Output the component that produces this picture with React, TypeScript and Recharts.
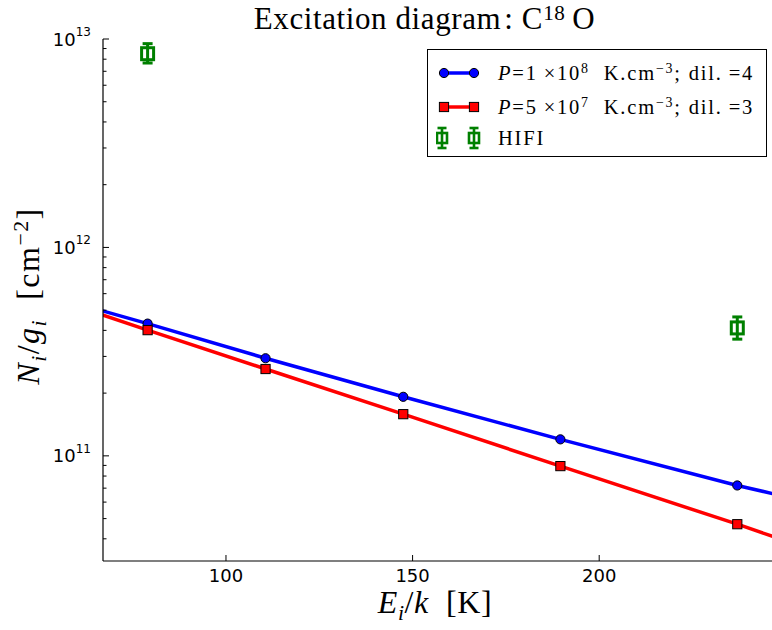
import React from 'react';
import { ComposedChart, Line, Scatter, ErrorBar, XAxis, YAxis } from 'recharts';

// upper level energies (K) of the C18O ladder, J=4..10
const levelEnergy = [52.7, 79.0, 110.6, 147.5, 189.6, 237.0, 289.7];
// model column densities per statistical weight (cm^-2)
const modelHighP = [5.86e11, 4.31e11, 2.94e11, 1.92e11, 1.2e11, 7.21e10, 4.37e10];
const modelLowP = [5.77e11, 4.01e11, 2.61e11, 1.585e11, 8.93e10, 4.7e10, 2.22e10];

// HIFI observations
const hifiEnergy = [79.0, 237.0];
const hifiValue = [8.5e12, 4.11e11];
const hifiErrLow = [0.83e12, 0.48e11];
const hifiErrHigh = [1.0e12, 0.53e11];

const xTicks = [100, 150, 200];
const yTicks = [
  4e10, 5e10, 6e10, 7e10, 8e10, 9e10, 1e11,
  2e11, 3e11, 4e11, 5e11, 6e11, 7e11, 8e11, 9e11, 1e12,
  2e12, 3e12, 4e12, 5e12, 6e12, 7e12, 8e12, 9e12, 1e13,
];

const X_MIN = 67.05;
const X_MAX = 246.3;
const Y_MIN = 3.13e10;
const Y_MAX = 1e13;

const BLUE = '#0000ff';
const RED = '#ff0000';
const GREEN = '#008000';
const TICK_FONT = '"DejaVu Sans", sans-serif';
const MATH_FONT = '"Liberation Serif", "DejaVu Serif", serif';

const highData = levelEnergy.map((e, i) => ({ e, v: modelHighP[i] }));
const lowData = levelEnergy.map((e, i) => ({ e, v: modelLowP[i] }));
const hifiData = hifiEnergy.map((e, i) => ({ e, v: hifiValue[i], err: [hifiErrLow[i], hifiErrHigh[i]] }));

const inRange = (e: number) => e >= X_MIN && e <= X_MAX;

const CircleDot = (props: any) => {
  const { cx, cy, payload, index } = props;
  if (!inRange(payload.e)) return <g key={`c-${index}`} />;
  return <circle key={`c-${index}`} cx={cx} cy={cy} r={4.6} fill={BLUE} stroke="#000" strokeWidth={1} />;
};

const SquareDot = (props: any) => {
  const { cx, cy, payload, index } = props;
  if (!inRange(payload.e)) return <g key={`s-${index}`} />;
  return <rect key={`s-${index}`} x={cx - 4.6} y={cy - 4.6} width={9.2} height={9.2} fill={RED} stroke="#000" strokeWidth={1} />;
};

const HifiShape = (props: any) => {
  const { cx, cy } = props;
  return <rect x={cx - 6} y={cy - 6} width={12} height={12} fill="none" stroke={GREEN} strokeWidth={3} />;
};

const BottomTick = (props: any) => {
  const { x, y, payload } = props;
  return (
    <g>
      <line x1={x} y1={y} x2={x} y2={y - 6} stroke="#000" strokeWidth={1} />
      <text x={x} y={y + 20.5} textAnchor="middle" fontFamily={TICK_FONT} fontSize={18} fill="#000">
        {payload.value}
      </text>
    </g>
  );
};

const TopTick = (props: any) => {
  const { x, y } = props;
  return <line x1={x} y1={y} x2={x} y2={y + 6} stroke="#000" strokeWidth={1} />;
};

const LeftTick = (props: any) => {
  const { x, y, payload } = props;
  const exp = Math.log10(payload.value);
  const major = Math.abs(exp - Math.round(exp)) < 1e-6;
  return (
    <g>
      <line x1={x} y1={y} x2={x + (major ? 6 : 3.5)} y2={y} stroke="#000" strokeWidth={1} />
      {major && (
        <text x={91} y={y + 6.5} textAnchor="end" fontFamily={TICK_FONT} fontSize={18} fill="#000">
          <tspan>10</tspan>
          <tspan dy={-9.5} fontSize={12}>{Math.round(exp)}</tspan>
        </text>
      )}
    </g>
  );
};

const sup: React.CSSProperties = { fontSize: '0.68em', position: 'relative', top: '-0.5em' };
const sub: React.CSSProperties = { fontSize: '0.68em', position: 'relative', top: '0.3em' };

const LegendMarkers = ({ kind }: { kind: 'circle' | 'square' | 'hifi' }) => (
  <svg width={50} height={26} style={{ position: 'absolute', left: 8, top: -13 }}>
    {kind === 'circle' && (
      <g>
        <line x1={8} y1={13} x2={38} y2={13} stroke={BLUE} strokeWidth={3.5} />
        <circle cx={8} cy={13} r={4.6} fill={BLUE} stroke="#000" strokeWidth={1} />
        <circle cx={38} cy={13} r={4.6} fill={BLUE} stroke="#000" strokeWidth={1} />
      </g>
    )}
    {kind === 'square' && (
      <g>
        <line x1={8} y1={13} x2={38} y2={13} stroke={RED} strokeWidth={3.5} />
        <rect x={3.4} y={8.4} width={9.2} height={9.2} fill={RED} stroke="#000" strokeWidth={1} />
        <rect x={33.4} y={8.4} width={9.2} height={9.2} fill={RED} stroke="#000" strokeWidth={1} />
      </g>
    )}
    {kind === 'hifi' &&
      [6, 38].map((cx) => (
        <g key={cx} stroke={GREEN} strokeWidth={2.6} fill="none">
          <line x1={cx} y1={3} x2={cx} y2={23} />
          <line x1={cx - 4.5} y1={3} x2={cx + 4.5} y2={3} />
          <line x1={cx - 4.5} y1={23} x2={cx + 4.5} y2={23} />
          <rect x={cx - 5} y={8} width={10} height={10} />
        </g>
      ))}
  </svg>
);

const legendRow: React.CSSProperties = {
  position: 'absolute',
  left: 0,
  height: 0,
  width: '100%',
};
const legendText: React.CSSProperties = {
  position: 'absolute',
  left: 70,
  top: -13,
  fontFamily: MATH_FONT,
  fontSize: 20.5,
  letterSpacing: 1.8,
  lineHeight: '26px',
  whiteSpace: 'nowrap',
};

export default function App() {
  return (
    <div style={{ position: 'absolute', left: 0, top: 0, width: 772, height: 630, background: '#fff', overflow: 'hidden' }}>
      <ComposedChart width={772} height={630} margin={{ top: 39, right: 0, bottom: 0, left: 0 }}>
        <XAxis
          xAxisId={0}
          dataKey="e"
          type="number"
          domain={[X_MIN, X_MAX]}
          allowDataOverflow
          ticks={xTicks}
          interval={0}
          height={69}
          tickSize={0}
          tickMargin={0}
          tickLine={false}
          tick={<BottomTick />}
          axisLine={{ stroke: '#000', strokeWidth: 1.2 }}
        />
        <XAxis
          xAxisId="top"
          orientation="top"
          dataKey="e"
          type="number"
          domain={[X_MIN, X_MAX]}
          allowDataOverflow
          ticks={xTicks}
          interval={0}
          height={0}
          tickSize={0}
          tickMargin={0}
          tickLine={false}
          tick={<TopTick />}
          axisLine={{ stroke: '#000', strokeWidth: 1.2 }}
        />
        <YAxis
          type="number"
          scale="log"
          domain={[Y_MIN, Y_MAX]}
          allowDataOverflow
          ticks={yTicks}
          interval={0}
          width={103}
          tickSize={0}
          tickMargin={0}
          tickLine={false}
          tick={<LeftTick />}
          axisLine={{ stroke: '#000', strokeWidth: 1.2 }}
        />
        <Line
          data={highData}
          dataKey="v"
          type="linear"
          stroke={BLUE}
          strokeWidth={3.5}
          dot={CircleDot}
          activeDot={false}
          isAnimationActive={false}
        />
        <Line
          data={lowData}
          dataKey="v"
          type="linear"
          stroke={RED}
          strokeWidth={3.5}
          dot={SquareDot}
          activeDot={false}
          isAnimationActive={false}
        />
        <Scatter data={hifiData} dataKey="v" shape={<HifiShape />} isAnimationActive={false}>
          <ErrorBar dataKey="err" direction="y" width={5} stroke={GREEN} strokeWidth={3} isAnimationActive={false} />
        </Scatter>
      </ComposedChart>

      {/* title */}
      <div
        style={{
          position: 'absolute', left: 90, width: 669, top: 1, textAlign: 'center',
          fontFamily: MATH_FONT, fontSize: 31, letterSpacing: 0.6, lineHeight: '35px', whiteSpace: 'nowrap',
        }}
      >
        Excitation diagram<span style={{ marginLeft: 3 }}>:</span> C<span style={{ ...sup, top: '-0.42em' }}>18</span>&#8201;O
      </div>

      {/* y label */}
      <div
        style={{
          position: 'absolute', left: 30, top: 296, transform: 'translate(-50%, -50%) rotate(-90deg)',
          fontFamily: MATH_FONT, fontSize: 32, letterSpacing: 1.5, whiteSpace: 'nowrap', lineHeight: '36px',
        }}
      >
        <i>N</i><span style={sub}><i>i</i></span>/<i>g</i><span style={sub}><i>i</i></span>&nbsp;&nbsp;[cm<span style={sup}>−2</span>]
      </div>

      {/* x label */}
      <div
        style={{
          position: 'absolute', left: 435, top: 604, transform: 'translate(-50%, -50%)',
          fontFamily: MATH_FONT, fontSize: 32, letterSpacing: 0.6, whiteSpace: 'nowrap', lineHeight: '36px',
        }}
      >
        <i>E</i><span style={sub}><i>i</i></span>/<i>k</i>&nbsp;&nbsp;[K]
      </div>

      {/* legend */}
      <div
        style={{
          position: 'absolute', left: 427, top: 49, width: 340, height: 108,
          border: '1.3px solid #000', background: '#fff', boxSizing: 'border-box',
        }}
      >
        <div style={{ ...legendRow, top: 22.7 }}>
          <LegendMarkers kind="circle" />
          <div style={legendText}>
            <i>P</i>=1&#8201;×10<span style={sup}>8</span>&nbsp;&nbsp;K.cm<span style={sup}>−3</span>; dil.&#8201;=4
          </div>
        </div>
        <div style={{ ...legendRow, top: 56.7 }}>
          <LegendMarkers kind="square" />
          <div style={legendText}>
            <i>P</i>=5&#8201;×10<span style={sup}>7</span>&nbsp;&nbsp;K.cm<span style={sup}>−3</span>; dil.&#8201;=3
          </div>
        </div>
        <div style={{ ...legendRow, top: 87.7 }}>
          <LegendMarkers kind="hifi" />
          <div style={legendText}>HIFI</div>
        </div>
      </div>
    </div>
  );
}
